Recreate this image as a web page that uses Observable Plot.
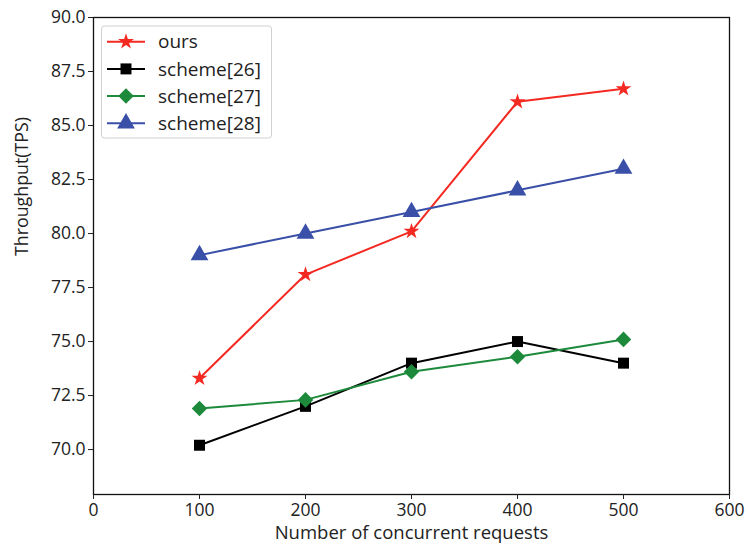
<!DOCTYPE html>
<html><head><meta charset="utf-8">
<script src="https://cdn.jsdelivr.net/npm/d3@7"></script>
<script src="https://cdn.jsdelivr.net/npm/@observablehq/plot@0.6"></script>
<style>
body{margin:0;background:#fff}
#chart{position:relative;width:748px;height:550px}
</style>
</head><body><div id="chart"></div>
<script>
const requests = [100, 200, 300, 400, 500];
const ours = [73.3, 78.1, 80.1, 86.1, 86.7];
const scheme26 = [70.2, 72.0, 74.0, 75.0, 74.0];
const scheme27 = [71.9, 72.3, 73.6, 74.3, 75.1];
const scheme28 = [79.0, 80.0, 81.0, 82.0, 83.0];
const seriesNames = ["ours", "scheme[26]", "scheme[27]", "scheme[28]"];
const xTicks = [0, 100, 200, 300, 400, 500, 600];
const yTicks = [70, 72.5, 75, 77.5, 80, 82.5, 85, 87.5, 90];
const xLabel = "Number of concurrent requests";
const yLabel = "Throughput(TPS)";

const colors = ["#f42a22", "#000000", "#1d8a3b", "#3a4fa8"];
const symbols = ["star", "square", "diamond2", "triangle"];
const radii = [5, 6.2, 7, 6.6];
const valuesBySeries = [ours, scheme26, scheme27, scheme28];
const rows = seriesNames.flatMap((s, i) => requests.map((x, j) => ({series: s, idx: i, x, y: valuesBySeries[i][j]})));

const FONT = "'Open Sans', sans-serif";

const marks = [];
seriesNames.forEach((s, i) => {
  const d = rows.filter(r => r.idx === i);
  marks.push(Plot.line(d, {x: "x", y: "y", stroke: colors[i], strokeWidth: 2}));
  marks.push(Plot.dot(d, {x: "x", y: "y", fill: colors[i], stroke: "none", symbol: () => symbols[i], r: radii[i]}));
});

const chart = Plot.plot({
  width: 748, height: 550,
  marginLeft: 93, marginRight: 19, marginTop: 17, marginBottom: 56,
  style: {fontFamily: FONT, fontSize: "17.5px", color: "#222", background: "#fff"},
  x: {domain: [0, 600], ticks: xTicks, label: null},
  y: {domain: [67.92, 90], ticks: yTicks, label: null, tickFormat: d => d.toFixed(1)},
  symbol: {type: "identity"},
  marks: [
    ...marks,
    Plot.frame({stroke: "#111", strokeWidth: 1.3}),
    Plot.axisX({ticks: xTicks, tickSize: 5, tickPadding: 4, fontSize: 17.5, label: null}),
    Plot.axisY({ticks: yTicks, tickSize: 5, tickPadding: 3, fontSize: 17.5, label: null, tickFormat: d => d.toFixed(1)}),
    Plot.text([xLabel], {frameAnchor: "bottom", dy: 44, text: d => d, fontSize: 18.5}),
    Plot.text([yLabel], {frameAnchor: "left", dx: -71, rotate: -90, text: d => d, fontSize: 17.8})
  ]
});
document.getElementById("chart").appendChild(chart);

// legend
const svg = d3.select(chart);
const lg = svg.append("g").attr("font-family", FONT).attr("font-size", 19).attr("fill", "#222").attr("text-anchor", "start");
lg.append("rect").attr("x", 101.5).attr("y", 26).attr("width", 170).attr("height", 112).attr("rx", 3)
  .attr("fill", "#fff").attr("fill-opacity", 0.85).attr("stroke", "#d0d0d0");
const symMap = {star: d3.symbolStar, square: d3.symbolSquare, diamond2: d3.symbolDiamond2, triangle: d3.symbolTriangle};
seriesNames.forEach((s, i) => {
  const yy = 41.7 + 27.2 * i;
  lg.append("line").attr("x1", 107).attr("x2", 145).attr("y1", yy).attr("y2", yy).attr("stroke", colors[i]).attr("stroke-width", 2);
  lg.append("path").attr("transform", `translate(126,${yy})`)
    .attr("d", d3.symbol(symMap[symbols[i]], Math.PI * radii[i] * radii[i])()).attr("fill", colors[i]);
  lg.append("text").attr("x", 158).attr("y", yy).attr("dy", "0.35em").attr("text-anchor", "start").text(s);
});
</script>
</body></html>
